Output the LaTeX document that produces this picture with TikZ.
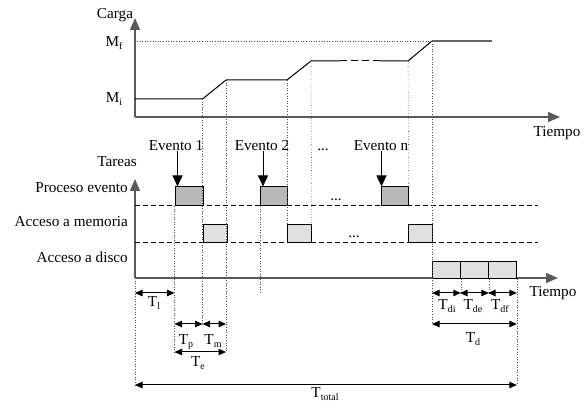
\documentclass[tikz,border=0pt]{standalone}
\usepackage{fontspec}
\setmainfont{Liberation Serif}
\usetikzlibrary{arrows.meta}
\newcommand{\lsub}[1]{\raisebox{-0.35ex}{\fontsize{10}{11}\selectfont #1}}
\begin{document}
\begin{tikzpicture}[x=1pt,y=-1pt,
  lbl/.style={inner sep=0pt,anchor=base,font=\fontsize{15.2}{17}\selectfont},
  axis/.style={line width=1.4pt,draw=black!65,-{Triangle[length=12pt,width=10pt]}},
  guide/.style={dotted,line width=0.6pt,draw=black!70},
  rowline/.style={line width=0.8pt,dash pattern=on 5pt off 3pt},
  curve/.style={line width=1pt},
  pbox/.style={draw,line width=0.8pt,fill=black!28,inner sep=0pt,anchor=north west},
  mbox/.style={draw,line width=0.8pt,fill=black!12,inner sep=0pt,anchor=north west},
  evarrow/.style={line width=1pt,-{Triangle[length=11pt,width=10pt]}},
  dim/.style={line width=1pt,{Triangle[length=7.5pt,width=6.5pt]}-{Triangle[length=7.5pt,width=6.5pt]}},
]
\useasboundingbox (0,0) rectangle (587,403);

% ---------- top graph ----------
\coordinate (o1) at (135,117);
\coordinate (yt1) at (135,18);
\coordinate (xt1) at (560,117);
\draw[axis] (o1) -- (yt1);
\draw[axis] (o1) -- (xt1);
\node[lbl] (carga) at (115,19) {Carga};
\node[lbl] (mf) at (114,47) {M\lsub{f}};
\node[lbl] (mi) at (114,103) {M\lsub{i}};
\node[lbl] (tiempo1) at (557,137) {Tiempo};

\coordinate (c0) at (135,99);
\coordinate (a1) at (202.5,99);
\coordinate (a2) at (226,80);
\coordinate (a3) at (287,80);
\coordinate (a4) at (311,61);
\coordinate (s1) at (340,61);
\coordinate (s2) at (380,61);
\coordinate (a5) at (408,61);
\coordinate (a6) at (432,41);
\coordinate (cend) at (492,41);
\coordinate (mfs) at (137,41);
\draw[curve] (c0) -- (a1) -- (a2) -- (a3) -- (a4) -- (s1);
\draw[curve,dash pattern=on 7pt off 4pt] (s1) -- (s2);
\draw[curve] (s2) -- (a5) -- (a6);
\draw[line width=1.3pt,draw=black!60] (a6) -- (cend);
\draw[guide] (mfs) -- (a6);

% ---------- bottom graph ----------
\coordinate (o2) at (135,278);
\coordinate (yt2) at (135,179);
\coordinate (xt2) at (558,278);
\draw[axis] (o2) -- (yt2);
\draw[axis] (o2) -- (xt2);
\node[lbl] (tiempo2) at (553,297) {Tiempo};
\node[lbl] (tareas) at (117,167) {Tareas};
\node[lbl,anchor=base east] (proc) at (128,193) {Proceso evento};
\node[lbl,anchor=base east] (mem) at (128,227) {Acceso a memoria};
\node[lbl,anchor=base east] (disco) at (128,263) {Acceso a disco};

\coordinate (r1s) at (135,205.7);
\coordinate (r1e) at (538,205.7);
\coordinate (r2s) at (135,242);
\coordinate (r2e) at (538,242);
\draw[rowline] (r1s) -- (r1e);
\draw[rowline] (r2s) -- (r2e);

\node[pbox,minimum width=28pt,minimum height=19pt] (p1) at (174.5,186.5) {};
\node[pbox,minimum width=27pt,minimum height=19pt] (p2) at (260,186.5) {};
\node[pbox,minimum width=27pt,minimum height=19pt] (pn) at (381,186.5) {};
\node[mbox,minimum width=24pt,minimum height=18pt] (m1) at (202.5,224) {};
\node[mbox,minimum width=24pt,minimum height=18pt] (m2) at (287,224) {};
\node[mbox,minimum width=24pt,minimum height=18pt] (mn) at (408,224) {};
\node[mbox,minimum width=28pt,minimum height=16.5pt] (d1) at (432,261.5) {};
\node[mbox,minimum width=28pt,minimum height=16.5pt] (d2) at (460,261.5) {};
\node[mbox,minimum width=28pt,minimum height=16.5pt] (d3) at (488,261.5) {};

\node[lbl] (ev1) at (176,151) {Evento 1};
\node[lbl] (ev2) at (262,151) {Evento 2};
\node[lbl] (evd) at (323,151) {...};
\node[lbl] (evn) at (381,151) {Evento n};
\node[lbl] (dots1) at (336,201) {...};
\node[lbl] (dots2) at (354,238) {...};

\coordinate (t1) at ([xshift=3pt]p1.north west);
\coordinate (t2) at ([xshift=3pt]p2.north west);
\coordinate (tn) at ([xshift=0.5pt]pn.north west);
\draw[evarrow] (t1 |- ev1.south) -- (t1);
\draw[evarrow] (t2 |- ev2.south) -- (t2);
\draw[evarrow] (tn |- evn.south) -- (tn);

% ---------- guides ----------
\coordinate (yTl) at (0,293);
\coordinate (yTp) at (0,324);
\coordinate (yTe) at (0,352);
\coordinate (yTt) at (0,385);
\draw[guide] (p1.south west) -- (p1.south west |- yTe);
\draw[guide] (a1) -- (a1 |- yTp);
\draw[guide] (a2) -- (a2 |- yTe);
\draw[guide] (p2.south west) -- (p2.south west |- yTl);
\draw[guide] (a3) -- (m2.north west);
\draw[guide] (a4) -- (m2.north east);
\draw[guide] (a5) -- (pn.north east);
\draw[guide] (a6) -- (a6 |- yTp);
\draw[guide] (d1.south east) -- (d1.south east |- yTl);
\draw[guide] (d2.south east) -- (d2.south east |- yTl);
\draw[guide] (d3.south east) -- (d3.south east |- yTt);
\draw[guide] (o2) -- (o2 |- yTt);

% ---------- dimensions ----------
\draw[dim] (o2 |- yTl) -- (p1.south west |- yTl);
\node[lbl] (tl) at (154,307) {T\lsub{l}};
\draw[dim] (p1.south west |- yTp) -- (a1 |- yTp);
\draw[dim] (a1 |- yTp) -- (a2 |- yTp);
\node[lbl] (tp) at (186,345) {T\lsub{p}};
\node[lbl] (tm) at (213,345) {T\lsub{m}};
\draw[dim] (p1.south west |- yTe) -- (a2 |- yTe);
\node[lbl] (te) at (198,367) {T\lsub{e}};

\draw[dim] (d1.south west |- yTl) -- (d1.south east |- yTl);
\draw[dim] (d2.south west |- yTl) -- (d2.south east |- yTl);
\draw[dim] (d3.south west |- yTl) -- (d3.south east |- yTl);
\node[lbl] (tdi) at (447,310) {T\lsub{di}};
\node[lbl] (tde) at (473,310) {T\lsub{de}};
\node[lbl] (tdf) at (500,310) {T\lsub{df}};
\draw[dim] (d1.south west |- yTp) -- (d3.south east |- yTp);
\node[lbl] (td) at (473,343) {T\lsub{d}};
\draw[dim] (o2 |- yTt) -- (d3.south east |- yTt);
\node[lbl] (tt) at (325,398) {T\lsub{total}};
\end{tikzpicture}
\end{document}
